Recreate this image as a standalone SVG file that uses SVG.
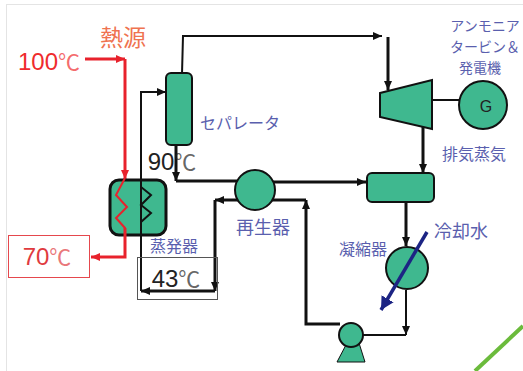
<svg xmlns="http://www.w3.org/2000/svg" width="523" height="371" viewBox="0 0 523 371">
<defs>
<marker id="ak" markerUnits="userSpaceOnUse" markerWidth="12" markerHeight="10" refX="9" refY="4" orient="auto"><path d="M0 0L9 4L0 8Z" fill="#111"/></marker>
<marker id="ar" markerUnits="userSpaceOnUse" markerWidth="12" markerHeight="10" refX="9" refY="4" orient="auto"><path d="M0 0L9 4L0 8Z" fill="#e8222c"/></marker>
<marker id="ab" markerUnits="userSpaceOnUse" markerWidth="18" markerHeight="16" refX="13" refY="7" orient="auto"><path d="M0 0L13 7L0 14Z" fill="#1c2484"/></marker>
</defs>
<style>
.n{fill:#3fb88f;stroke:#111;stroke-width:2}
.c{fill:none;stroke:#111;stroke-width:2}
.t{fill:none;stroke:#111;stroke-width:3}
.r{fill:none;stroke:#e8222c;stroke-width:2}
.rt{fill:none;stroke:#e8222c;stroke-width:3}
.j{font-family:"Noto Sans CJK JP","Liberation Sans",sans-serif;fill:#5a5fae;font-size:16px}
.d{font-family:"Liberation Sans","Noto Sans CJK JP",sans-serif;font-size:24px}
.u{font-size:22px;fill-opacity:.7}
text{text-anchor:middle}
</style>
<rect x="6.500" y="4.500" width="520" height="395" fill="#fff" stroke="#e4e4e4"/>
<g id="connectors">
<path class="c" d="M182 74L183 36H382" marker-end="url(#ak)"/>
<path class="t" d="M388 37V90" marker-end="url(#ak)"/>
<path class="c" d="M432 100H460"/>
<path class="t" d="M423 127V173" marker-end="url(#ak)"/>
<path class="t" d="M406 203V246" marker-end="url(#ak)"/>
<path class="c" d="M406 290V335" marker-end="url(#ak)"/>
<path class="c" d="M406 335H351" marker-end="url(#ak)"/>
<path class="t" d="M340 324H306V200" marker-end="url(#ak)"/>
<path class="t" d="M306 200H272"/>
<path class="t" d="M272 182H366" marker-end="url(#ak)"/>
<path class="t" d="M176 145V181" marker-end="url(#ak)"/>
<path class="t" d="M176 181H238"/>
<path class="t" d="M238 200H215" marker-end="url(#ak)"/>
<path class="t" d="M215 200V291" marker-end="url(#ak)"/>
<path class="rt" d="M85 59H125" marker-end="url(#ar)"/>
<path class="rt" d="M125 59V179" marker-end="url(#ar)"/>
</g>
<g id="evaporator">
<rect class="n" x="110" y="180" width="56" height="55" rx="9" style="stroke-width:3"/>
<path class="r" d="M125 178L116 195L127 207L116 218L125 228V235"/>
<path class="c" d="M141 222L151 213L141 205L151 195L141 187"/>
</g>
<g id="separator"><rect class="n" x="166" y="73" width="26" height="72" rx="5"/></g>
<g id="turbine"><path class="n" d="M380 93L432 80V129L380 117Z"/></g>
<g id="generator"><circle class="n" cx="483" cy="105" r="24"/><text x="486" y="112" font-family="Liberation Sans" font-size="16" fill="#222">G</text></g>
<g id="regenerator"><circle class="n" cx="255" cy="190" r="20"/></g>
<g id="mixer"><rect class="n" x="367" y="173" width="67" height="29" rx="5"/></g>
<g id="condenser"><circle class="n" cx="407" cy="268" r="21"/></g>
<g id="pump"><path class="n" d="M337 362L347 343H359L365 362Z" style="stroke-width:1"/><circle class="n" cx="351" cy="335" r="12"/></g>
<g id="connectors-over">
<path class="c" d="M141 291V92H166" marker-end="url(#ak)"/>
<path class="c" d="M215 291H141" marker-end="url(#ak)" style="stroke-width:3"/>
<path class="rt" d="M125 228V257H91" marker-end="url(#ar)"/>
<path fill="none" stroke="#1c2484" stroke-width="3.500" d="M427 232L381 310" marker-end="url(#ab)"/>
</g>
<text x="123" y="46" style="font-family:'Noto Sans CJK JP',sans-serif;font-size:23px;fill:#ef7350">熱源</text>
<text x="49" y="70" class="d" fill="#ef2b2d">100<tspan class="u">℃</tspan></text>
<text x="172" y="170" class="d" fill="#222">90<tspan class="u">℃</tspan></text>
<text x="240" y="129" class="j">セパレータ</text>
<text x="485" y="31" class="j" style="font-size:14px">アンモニア</text>
<text x="485" y="52" class="j" style="font-size:14px">タービン＆</text>
<text x="480" y="73" class="j" style="font-size:14px">発電機</text>
<text x="474" y="160" class="j">排気蒸気</text>
<text x="174" y="252" class="j">蒸発器</text>
<text x="263" y="234" class="j" style="font-size:18px">再生器</text>
<text x="363" y="255" class="j">凝縮器</text>
<text x="461" y="238" class="j" style="font-size:18px">冷却水</text>
<g id="box70"><rect x="8.500" y="235.500" width="81" height="42" fill="none" stroke="#e5484d"/><text x="47" y="265" class="d" fill="#e03a3e">70<tspan class="u">℃</tspan></text></g>
<g id="box43"><rect x="137.500" y="257.500" width="80" height="42" fill="none" stroke="#555"/><text x="176" y="287" class="d" fill="#222">43<tspan class="u">℃</tspan></text></g>
<path d="M475 371L523 326" fill="none" stroke="#6bbb3c" stroke-width="4"/>
</svg>
